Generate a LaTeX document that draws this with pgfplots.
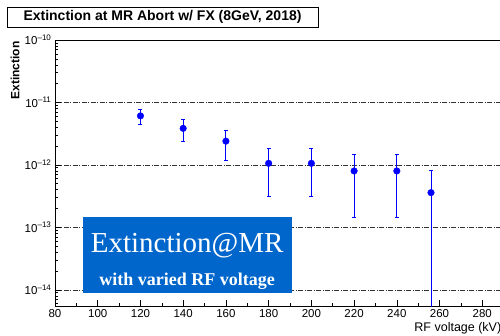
\documentclass[border=0pt]{standalone}
\usepackage{fontspec}
\setmainfont{Liberation Sans}
\newfontfamily\boxfont{Liberation Serif}
\usepackage{pgfplots}
\pgfplotsset{compat=1.18}
\definecolor{boxblue}{RGB}{0,102,204}
\begin{document}
\begin{tikzpicture}
\useasboundingbox (-55pt,-29pt) rectangle (445pt,306pt);
\begin{scope}
\clip (-55pt,-29pt) rectangle (445pt,306pt);
\begin{axis}[
  at={(0pt,0pt)}, anchor=south west,
  scale only axis, width=470pt, height=266pt,
  ymode=log,
  xmin=80, xmax=300, ymin=5.5e-15, ymax=1e-10,
  xtick={80,100,...,280}, minor x tick num=1,
  ytick={1e-14,1e-13,1e-12,1e-11,1e-10},
  yticklabels={10\textsuperscript{–14},10\textsuperscript{–13},10\textsuperscript{–12},10\textsuperscript{–11},10\textsuperscript{–10}},
  minor ytick={6e-15,7e-15,8e-15,9e-15,
    2e-14,3e-14,4e-14,5e-14,6e-14,7e-14,8e-14,9e-14,
    2e-13,3e-13,4e-13,5e-13,6e-13,7e-13,8e-13,9e-13,
    2e-12,3e-12,4e-12,5e-12,6e-12,7e-12,8e-12,9e-12,
    2e-11,3e-11,4e-11,5e-11,6e-11,7e-11,8e-11,9e-11},
  tick align=inside, xtick pos=left, ytick pos=left,
  major tick length=6pt, minor tick length=3.5pt,
  every tick/.style={black, line width=0.6pt},
  ymajorgrids,
  major grid style={black!80, line width=0.6pt, dash pattern=on 5pt off 1.5pt on 1pt off 1.5pt},
  axis line style={line width=0.9pt},
  /pgf/number format/assume math mode=true,
  ticklabel style={font=\fontsize{11.5}{13}\selectfont},
  xticklabel style={yshift=0pt},
  xlabel={RF voltage (kV)},
  xlabel style={at={(axis description cs:0.957,0)}, anchor=base east, yshift=-25pt, font=\fontsize{12.5}{14}\selectfont},
  ylabel={\textbf{Extinction}},
  ylabel style={at={(axis description cs:-0.085,1.0075)}, anchor=east, font=\fontsize{12}{14}\selectfont},
]
\addplot[blue, only marks, mark=*, mark size=3.3pt,
  error bars/.cd, y dir=both, y explicit,
  error bar style={blue, line width=1pt},
  error mark options={rotate=90, mark size=2pt, blue, line width=0.8pt}]
  coordinates {
  (120, 6.1e-12) += (0, 1.7e-12) -= (0, 1.7e-12)
  (140, 3.85e-12) += (0, 1.45e-12) -= (0, 1.45e-12)
  (160, 2.4e-12) += (0, 1.2e-12) -= (0, 1.2e-12)
  (180, 1.06e-12) += (0, 0.77e-12) -= (0, 0.75e-12)
  (200, 1.06e-12) += (0, 0.77e-12) -= (0, 0.75e-12)
  (220, 8.0e-13) += (0, 6.7e-13) -= (0, 6.55e-13)
  (240, 8.0e-13) += (0, 6.7e-13) -= (0, 6.55e-13)
  (256, 3.6e-13) += (0, 4.6e-13) -= (0, 3.599e-13)
  };
\end{axis}
\end{scope}
\node[draw, line width=0.8pt, minimum width=311pt, minimum height=20pt, inner sep=0pt,
  font=\bfseries\fontsize{14}{16}\selectfont] at (107.5pt,289pt) {Extinction at MR Abort w/ FX (8GeV, 2018)};
\node[fill=boxblue, minimum width=209pt, minimum height=76pt, inner sep=0pt] at (132.2pt,51pt) {};
\node[white, anchor=base, font=\boxfont\fontsize{29}{30}\selectfont] at (132.2pt,54pt) {Extinction@MR};
\node[white, anchor=base, font=\boxfont\bfseries\fontsize{18}{20}\selectfont] at (132.2pt,21pt) {with varied RF voltage};
\end{tikzpicture}
\end{document}
